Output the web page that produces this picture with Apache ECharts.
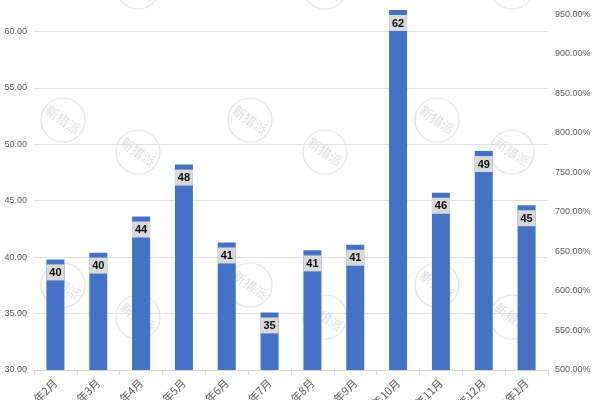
<!DOCTYPE html>
<html>
<head>
<meta charset="utf-8">
<script src="https://cdn.jsdelivr.net/npm/echarts@6/dist/echarts.min.js"></script>
<style>html,body{margin:0;padding:0;background:#fff;}#c{width:600px;height:400px;}</style>
</head>
<body>
<div id="c"></div>
<script>
var categories = ['2021年2月','2021年3月','2021年4月','2021年5月','2021年6月','2021年7月','2021年8月','2021年9月','2021年10月','2021年11月','2021年12月','2022年1月'];
var values = [39.8, 40.4, 43.6, 48.2, 41.3, 35.1, 40.6, 41.1, 61.9, 45.7, 49.4, 44.6];
var leftTicks = {min: 30, max: 65, interval: 5};
var rightTicks = {min: 500, max: 1000, interval: 50};

var chart = echarts.init(document.getElementById('c'), null, {renderer: 'canvas'});

var graphics = [];
var bandYs = [-45, 120, 285];
var cols = [63, 250, 437];
bandYs.forEach(function (by) {
  cols.forEach(function (cx) {
    [[cx, by], [cx + 75, by + 32]].forEach(function (p) {
      graphics.push({
        type: 'group', x: p[0], y: p[1], z: -10, silent: true,
        children: [
          {type: 'circle', shape: {cx: 0, cy: 0, r: 22}, style: {fill: 'none', stroke: '#e3e3e3', lineWidth: 1.2}},
          {type: 'text', rotation: -0.62, style: {text: '新猎派', fill: '#dedede', font: '13px "Noto Sans CJK SC"', align: 'center', verticalAlign: 'middle'}}
        ]
      });
    });
  });
});

chart.setOption({
  animation: false,
  backgroundColor: '#fff',
  graphic: graphics,
  grid: {left: 34, right: 52, top: -25, bottom: 30, containLabel: false, outerBoundsMode: 'none'},
  xAxis: {
    type: 'category',
    data: categories,
    axisLine: {lineStyle: {color: '#d9d9d9'}},
    axisTick: {show: true, length: 5, lineStyle: {color: '#d9d9d9'}},
    axisLabel: {interval: 0, rotate: 45, fontSize: 11, color: '#595959', margin: 11, fontFamily: '"Noto Sans CJK SC", sans-serif'}
  },
  yAxis: [{
    type: 'value', min: leftTicks.min, max: leftTicks.max, interval: leftTicks.interval,
    axisLine: {show: false}, axisTick: {show: false},
    splitLine: {lineStyle: {color: '#e0e0e0'}},
    axisLabel: {fontSize: 9, color: '#595959', margin: 7, fontFamily: '"Liberation Sans", Arial', formatter: function (v) { return v.toFixed(2); }}
  }, {
    type: 'value', min: rightTicks.min, max: rightTicks.max, interval: rightTicks.interval,
    axisLine: {show: false}, axisTick: {show: false}, splitLine: {show: false},
    axisLabel: {fontSize: 9, color: '#595959', margin: 7, fontFamily: '"Liberation Sans", Arial', formatter: function (v) { return v.toFixed(2) + '%'; }}
  }],
  series: [{
    type: 'bar',
    data: values,
    barWidth: 18,
    z: 2,
    itemStyle: {color: '#4472C4'},
    label: {
      show: true, position: 'insideTop', distance: 5,
      formatter: function (p) { return Math.round(p.value); },
      color: '#0d0d0d', fontWeight: 'bold', fontSize: 11, fontFamily: '"Liberation Sans", Arial',
      backgroundColor: '#d9d9d9', padding: [3, 2, 2, 2], width: 14, align: 'center', lineHeight: 11
    }
  }]
});
</script>
</body>
</html>
